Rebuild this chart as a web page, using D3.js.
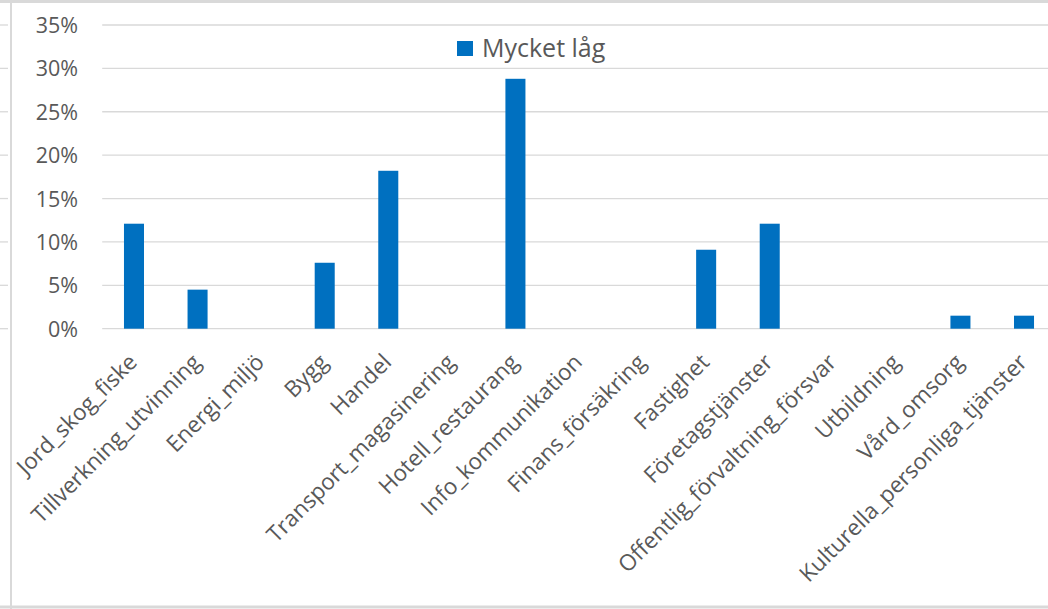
<!DOCTYPE html>
<html><head><meta charset="utf-8">
<script src="https://cdn.jsdelivr.net/npm/d3@7"></script>
<style>html,body{margin:0;padding:0;background:#fff;}svg{display:block;font-family:"Open Sans",sans-serif;}</style>
</head><body>
<svg id="c" width="1048" height="609"></svg>
<script>
const categories = ["Jord_skog_fiske","Tillverkning_utvinning","Energi_miljö","Bygg","Handel","Transport_magasinering","Hotell_restaurang","Info_kommunikation","Finans_försäkring","Fastighet","Företagstjänster","Offentlig_förvaltning_försvar","Utbildning","Vård_omsorg","Kulturella_personliga_tjänster"];
const seriesName = "Mycket låg";
const values = [12.1, 4.5, 0, 7.6, 18.2, 0, 28.8, 0, 0, 9.1, 12.1, 0, 0, 1.5, 1.5];
const yTicks = [0, 5, 10, 15, 20, 25, 30, 35];

const svg = d3.select("#c");
const W = 1048, H = 609;
const plot = {left: 102.2, right: 1055.8, top: 25, bottom: 328.7};
const textColor = "#595959", gridColor = "#d9d9d9", barColor = "#0070c0";

// outer frame fragments
svg.append("line").attr("x1",0).attr("x2",W).attr("y1",1.5).attr("y2",1.5).attr("stroke",gridColor).attr("stroke-width",3);
svg.append("line").attr("x1",0).attr("x2",W).attr("y1",607).attr("y2",607).attr("stroke",gridColor).attr("stroke-width",3);
svg.append("line").attr("x1",11).attr("x2",11).attr("y1",0).attr("y2",H).attr("stroke",gridColor).attr("stroke-width",2);

const x = d3.scaleBand().domain(categories).range([plot.left, plot.right]).paddingInner(0.685).paddingOuter(0.3425);
const y = d3.scaleLinear().domain([0, 35]).range([plot.bottom, plot.top]);

// left stubs of neighbouring chart gridlines
svg.append("g").selectAll("line").data(yTicks).join("line")
  .attr("x1",0).attr("x2",8).attr("y1",d=>y(d)).attr("y2",d=>y(d))
  .attr("stroke",gridColor).attr("stroke-width",1.3);

// gridlines
svg.append("g").selectAll("line").data(yTicks).join("line")
  .attr("x1",plot.left).attr("x2",W).attr("y1",d=>y(d)).attr("y2",d=>y(d))
  .attr("stroke",gridColor).attr("stroke-width",1.3);

// y axis labels
const yAxis = d3.axisLeft(y).tickValues(yTicks).tickFormat(d=>d+"%").tickSize(0).tickPadding(0);
const ya = svg.append("g").attr("transform","translate(78,0)").call(yAxis);
ya.select(".domain").remove();
ya.selectAll("text").attr("fill",textColor).style("font-size","21.5px").style("font-family","'Open Sans',sans-serif").attr("dy","0.35em");

// bars
svg.append("g").selectAll("rect").data(categories).join("rect")
  .attr("x",d=>x(d)).attr("width",x.bandwidth())
  .attr("y",(d,i)=>y(values[i])).attr("height",(d,i)=>y(0)-y(values[i]))
  .attr("fill",barColor);

// x labels
svg.append("g").selectAll("text").data(categories).join("text")
  .attr("transform",d=>`translate(${x(d)+x.bandwidth()/2-1},358) rotate(-45)`)
  .attr("text-anchor","end").attr("dy","0.35em")
  .attr("fill",textColor).style("font-size","22.5px")
  .text(d=>d);

// legend
const lg = svg.append("g");
lg.append("rect").attr("x",457).attr("y",41).attr("width",16).attr("height",15).attr("fill",barColor);
lg.append("text").attr("x",482).attr("y",57).attr("fill",textColor).style("font-size","25px").text(seriesName);
</script>
</body></html>
